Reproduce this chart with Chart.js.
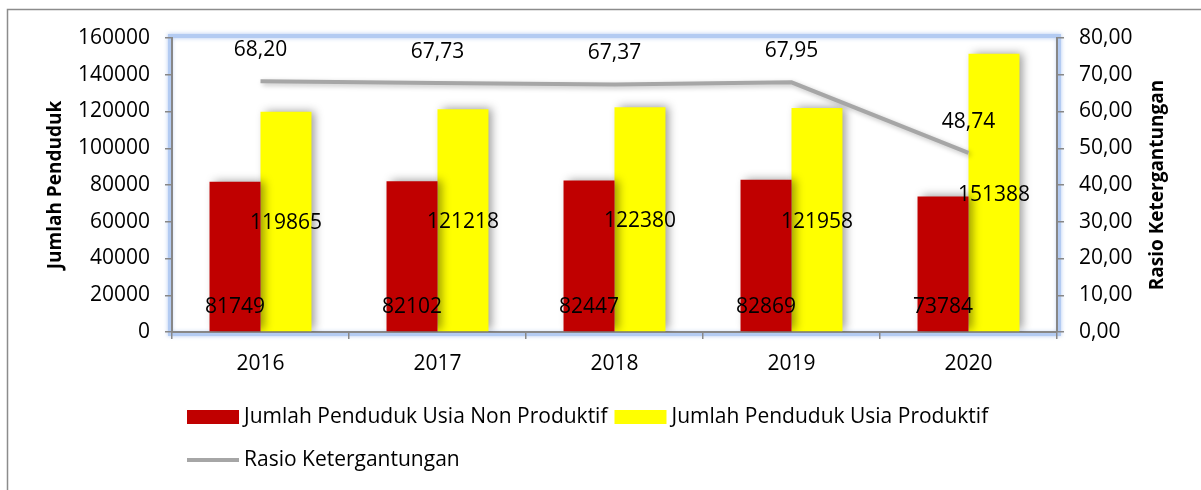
<!DOCTYPE html>
<html>
<head>
<meta charset="utf-8">
<script src="https://cdn.jsdelivr.net/npm/chart.js@4.4.1/dist/chart.umd.min.js"></script>
<style>
    html, body { margin: 0; padding: 0; background: #fff; }
    #wrap { position: relative; width: 1201px; height: 490px; }
</style>
</head>
<body>
<div id="wrap"><canvas id="rasioChart" width="1201" height="490"></canvas></div>
<script>
// Data per tahun
const tahun = ['2016', '2017', '2018', '2019', '2020'];
const nonProduktif = [81749, 82102, 82447, 82869, 73784];
const produktif = [119865, 121218, 122380, 121958, 151388];
const rasio = [68.20, 67.73, 67.37, 67.95, 48.74];

const labelNon = 'Jumlah Penduduk Usia Non Produktif';
const labelProd = 'Jumlah Penduduk Usia Produktif';
const labelRasio = 'Rasio Ketergantungan';

const fontUtama = "'Open Sans', 'DejaVu Sans', sans-serif";

function formatKoma(v) {
    return Number(v).toFixed(2).replace('.', ',');
}

// Bingkai luar + cahaya biru area plot
const bingkaiPlugin = {
    id: 'bingkai',
    beforeDraw(chart) {
        const ctx = chart.ctx;
        const a = chart.chartArea;
        ctx.save();
        ctx.strokeStyle = '#8c8c8c';
        ctx.lineWidth = 1.5;
        ctx.beginPath();
        ctx.moveTo(7.5, 490);
        ctx.lineTo(7.5, 9.5);
        ctx.lineTo(1201, 9.5);
        ctx.stroke();

        ctx.strokeStyle = '#b3cbf2';
        ctx.lineWidth = 4;
        ctx.shadowColor = 'rgba(120,160,230,0.6)';
        ctx.shadowBlur = 4;
        ctx.strokeRect(a.left - 2, a.top - 2, a.right - a.left + 4, a.bottom - a.top + 4);
        ctx.restore();
    }
};

// Bayangan untuk batang dan garis
const bayanganPlugin = {
    id: 'bayangan',
    beforeDatasetDraw(chart, args) {
        const ctx = chart.ctx;
        ctx.save();
        const type = chart.data.datasets[args.index].type;
        if (type === 'line') {
            ctx.shadowColor = 'rgba(0,0,0,0.25)';
            ctx.shadowBlur = 5;
            ctx.shadowOffsetX = 2;
            ctx.shadowOffsetY = 2;
        } else {
            ctx.shadowColor = 'rgba(0,0,0,0.4)';
            ctx.shadowBlur = 9;
            ctx.shadowOffsetX = 4;
            ctx.shadowOffsetY = -1;
        }
    },
    afterDatasetDraw(chart) {
        chart.ctx.restore();
    }
};

// Label nilai dan judul sumbu kanan
const labelPlugin = {
    id: 'labelNilai',
    afterDatasetsDraw(chart) {
        const ctx = chart.ctx;
        const nol = chart.scales.y.getPixelForValue(0);
        ctx.save();
        ctx.font = '21px ' + fontUtama;
        ctx.fillStyle = '#000';
        ctx.textAlign = 'center';
        ctx.textBaseline = 'middle';
        chart.data.datasets.forEach((ds, i) => {
            const meta = chart.getDatasetMeta(i);
            meta.data.forEach((el, j) => {
                const v = ds.data[j];
                if (ds.type === 'line') {
                    ctx.fillText(formatKoma(v), el.x, el.y - 31);
                } else if (i === 0) {
                    ctx.fillText(String(v), el.x, nol - 25);
                } else {
                    ctx.fillText(String(v), el.x, (el.y + el.base) / 2 + 2);
                }
            });
        });

        // judul sumbu kanan (dibaca dari bawah ke atas)
        ctx.font = 'bold 19px ' + fontUtama;
        ctx.translate(1158, (chart.chartArea.top + chart.chartArea.bottom) / 2);
        ctx.rotate(-Math.PI / 2);
        ctx.fillText(labelRasio, 0, 0);
        ctx.restore();
    }
};

// Legenda manual (dua baris)
const legendaPlugin = {
    id: 'legendaManual',
    afterDraw(chart) {
        const ctx = chart.ctx;
        const ds = chart.data.datasets;
        ctx.save();
        ctx.font = '21px ' + fontUtama;
        ctx.textBaseline = 'middle';
        ctx.textAlign = 'left';

        let x = 187;
        const y1 = 417;
        [0, 1].forEach(i => {
            ctx.fillStyle = ds[i].backgroundColor;
            ctx.fillRect(x, y1 - 7, 52, 14);
            ctx.fillStyle = '#000';
            ctx.fillText(ds[i].label, x + 57, y1);
            x += 57 + ctx.measureText(ds[i].label).width + 7;
        });

        const y2 = 460;
        ctx.strokeStyle = ds[2].borderColor;
        ctx.lineWidth = 4;
        ctx.beginPath();
        ctx.moveTo(187, y2);
        ctx.lineTo(239, y2);
        ctx.stroke();
        ctx.fillStyle = '#000';
        ctx.fillText(ds[2].label, 244, y2);
        ctx.restore();
    }
};

const ctx = document.getElementById('rasioChart').getContext('2d');

new Chart(ctx, {
    type: 'bar',
    data: {
        labels: tahun,
        datasets: [
            {
                type: 'bar',
                label: labelNon,
                data: nonProduktif,
                backgroundColor: '#c00000',
                yAxisID: 'y',
                order: 1,
                barPercentage: 1,
                categoryPercentage: 0.576
            },
            {
                type: 'bar',
                label: labelProd,
                data: produktif,
                backgroundColor: '#ffff00',
                yAxisID: 'y',
                order: 1,
                barPercentage: 1,
                categoryPercentage: 0.576
            },
            {
                type: 'line',
                label: labelRasio,
                data: rasio,
                borderColor: '#a6a6a6',
                backgroundColor: '#a6a6a6',
                borderWidth: 4,
                pointRadius: 0,
                tension: 0,
                yAxisID: 'y1',
                order: 0
            }
        ]
    },
    options: {
        responsive: false,
        animation: false,
        layout: { padding: { top: 38, right: 0, bottom: 100, left: 0 } },
        plugins: {
            legend: { display: false },
            tooltip: { enabled: false }
        },
        scales: {
            x: {
                afterFit(scale) { scale.height = 58; },
                grid: {
                    offset: true,
                    drawOnChartArea: false,
                    drawTicks: true,
                    tickLength: 7,
                    color: '#878787',
                    lineWidth: 1.5
                },
                border: { display: true, color: '#878787', width: 2 },
                ticks: {
                    padding: 12,
                    color: '#000',
                    font: { family: fontUtama, size: 21 }
                }
            },
            y: {
                position: 'left',
                min: 0,
                max: 160000,
                afterFit(scale) { scale.width = 172; },
                grid: {
                    drawOnChartArea: false,
                    drawTicks: true,
                    tickLength: 7,
                    color: '#878787',
                    lineWidth: 1.5
                },
                border: { display: true, color: '#878787', width: 2 },
                ticks: {
                    stepSize: 20000,
                    padding: 15,
                    color: '#000',
                    font: { family: fontUtama, size: 21 },
                    callback: v => String(v)
                },
                title: {
                    display: true,
                    text: 'Jumlah Penduduk',
                    color: '#000',
                    font: { family: fontUtama, size: 19, weight: 'bold' },
                    padding: { top: 44, bottom: 0 }
                }
            },
            y1: {
                position: 'right',
                min: 0,
                max: 80,
                afterFit(scale) { scale.width = 144; },
                grid: {
                    drawOnChartArea: false,
                    drawTicks: true,
                    tickLength: 7,
                    color: '#878787',
                    lineWidth: 1.5
                },
                border: { display: true, color: '#878787', width: 2 },
                ticks: {
                    stepSize: 10,
                    padding: 15,
                    color: '#000',
                    font: { family: fontUtama, size: 21 },
                    callback: v => formatKoma(v)
                }
            }
        }
    },
    plugins: [bingkaiPlugin, bayanganPlugin, labelPlugin, legendaPlugin]
});
</script>
</body>
</html>
